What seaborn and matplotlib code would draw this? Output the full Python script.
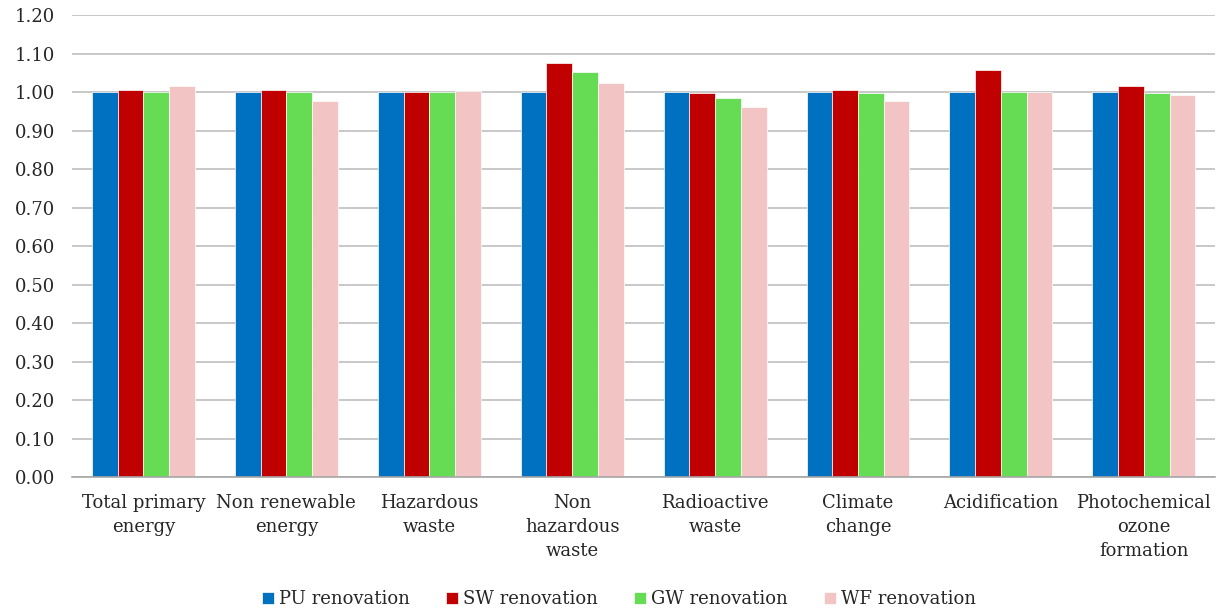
import matplotlib
matplotlib.use('Agg')
import matplotlib.pyplot as plt
import seaborn as sns
import pandas as pd
import numpy as np

categories = ['Total primary\nenergy', 'Non renewable\nenergy', 'Hazardous\nwaste',
              'Non\nhazardous\nwaste', 'Radioactive\nwaste', 'Climate\nchange',
              'Acidification', 'Photochemical\nozone\nformation']
series = ['PU renovation', 'SW renovation', 'GW renovation', 'WF renovation']
pu = [1.000, 1.000, 1.000, 1.000, 1.000, 1.000, 1.000, 1.000]
sw = [1.006, 1.005, 1.000, 1.077, 0.999, 1.006, 1.059, 1.016]
gw = [1.000, 1.000, 1.000, 1.052, 0.985, 0.999, 1.000, 0.999]
wf = [1.016, 0.978, 1.003, 1.023, 0.961, 0.978, 1.000, 0.994]
colors = ['#0070C0', '#C00000', '#66DC55', '#F2C4C4']

rows = []
for name, vals in zip(series, [pu, sw, gw, wf]):
    for c, v in zip(categories, vals):
        rows.append({'category': c, 'series': name, 'value': v})
df = pd.DataFrame(rows)

sns.set_style('white')
plt.rcParams['font.family'] = ['DejaVu Serif']

fig = plt.figure(figsize=(12.19, 6.1), dpi=100)
ax = fig.add_axes([0.059, 0.218, 0.938, 0.757])
sns.barplot(data=df, x='category', y='value', hue='series', palette=colors,
            saturation=1, width=0.72, gap=0, edgecolor='white', linewidth=0.5,
            ax=ax, legend=True)

ax.set_ylim(0, 1.2)
ax.set_yticks(np.arange(0, 1.21, 0.1))
ax.set_yticklabels(['%.2f' % t for t in np.arange(0, 1.21, 0.1)], fontsize=13)
ax.yaxis.grid(True, color='#BFBFBF', linewidth=1.2)
ax.set_axisbelow(True)
ax.set_xlim(-0.5, len(categories) - 0.5)
ax.set_xlabel('')
ax.set_ylabel('')
ax.tick_params(axis='x', which='major', length=0, labelsize=13, pad=12)
for lab in ax.get_xticklabels():
    lab.set_linespacing(1.45)
ax.set_xticks(np.arange(-0.5, len(categories) + 0.5, 1), minor=True)
ax.tick_params(axis='x', which='minor', length=8, color='#A6A6A6', width=1)
ax.tick_params(axis='y', length=6, color='#BFBFBF', width=1, pad=6)
for s in ['top', 'right', 'left']:
    ax.spines[s].set_visible(False)
ax.spines['bottom'].set_color('#A6A6A6')
ax.spines['bottom'].set_linewidth(1.2)

handles, labels = ax.get_legend_handles_labels()
ax.get_legend().remove()
fig.legend(handles, labels, loc='lower center', bbox_to_anchor=(0.508, -0.024), ncol=4,
           frameon=False, fontsize=13, handlelength=0.65, handleheight=0.65,
           handletextpad=0.3, columnspacing=2.0)

fig.savefig('out.png', dpi=100)
